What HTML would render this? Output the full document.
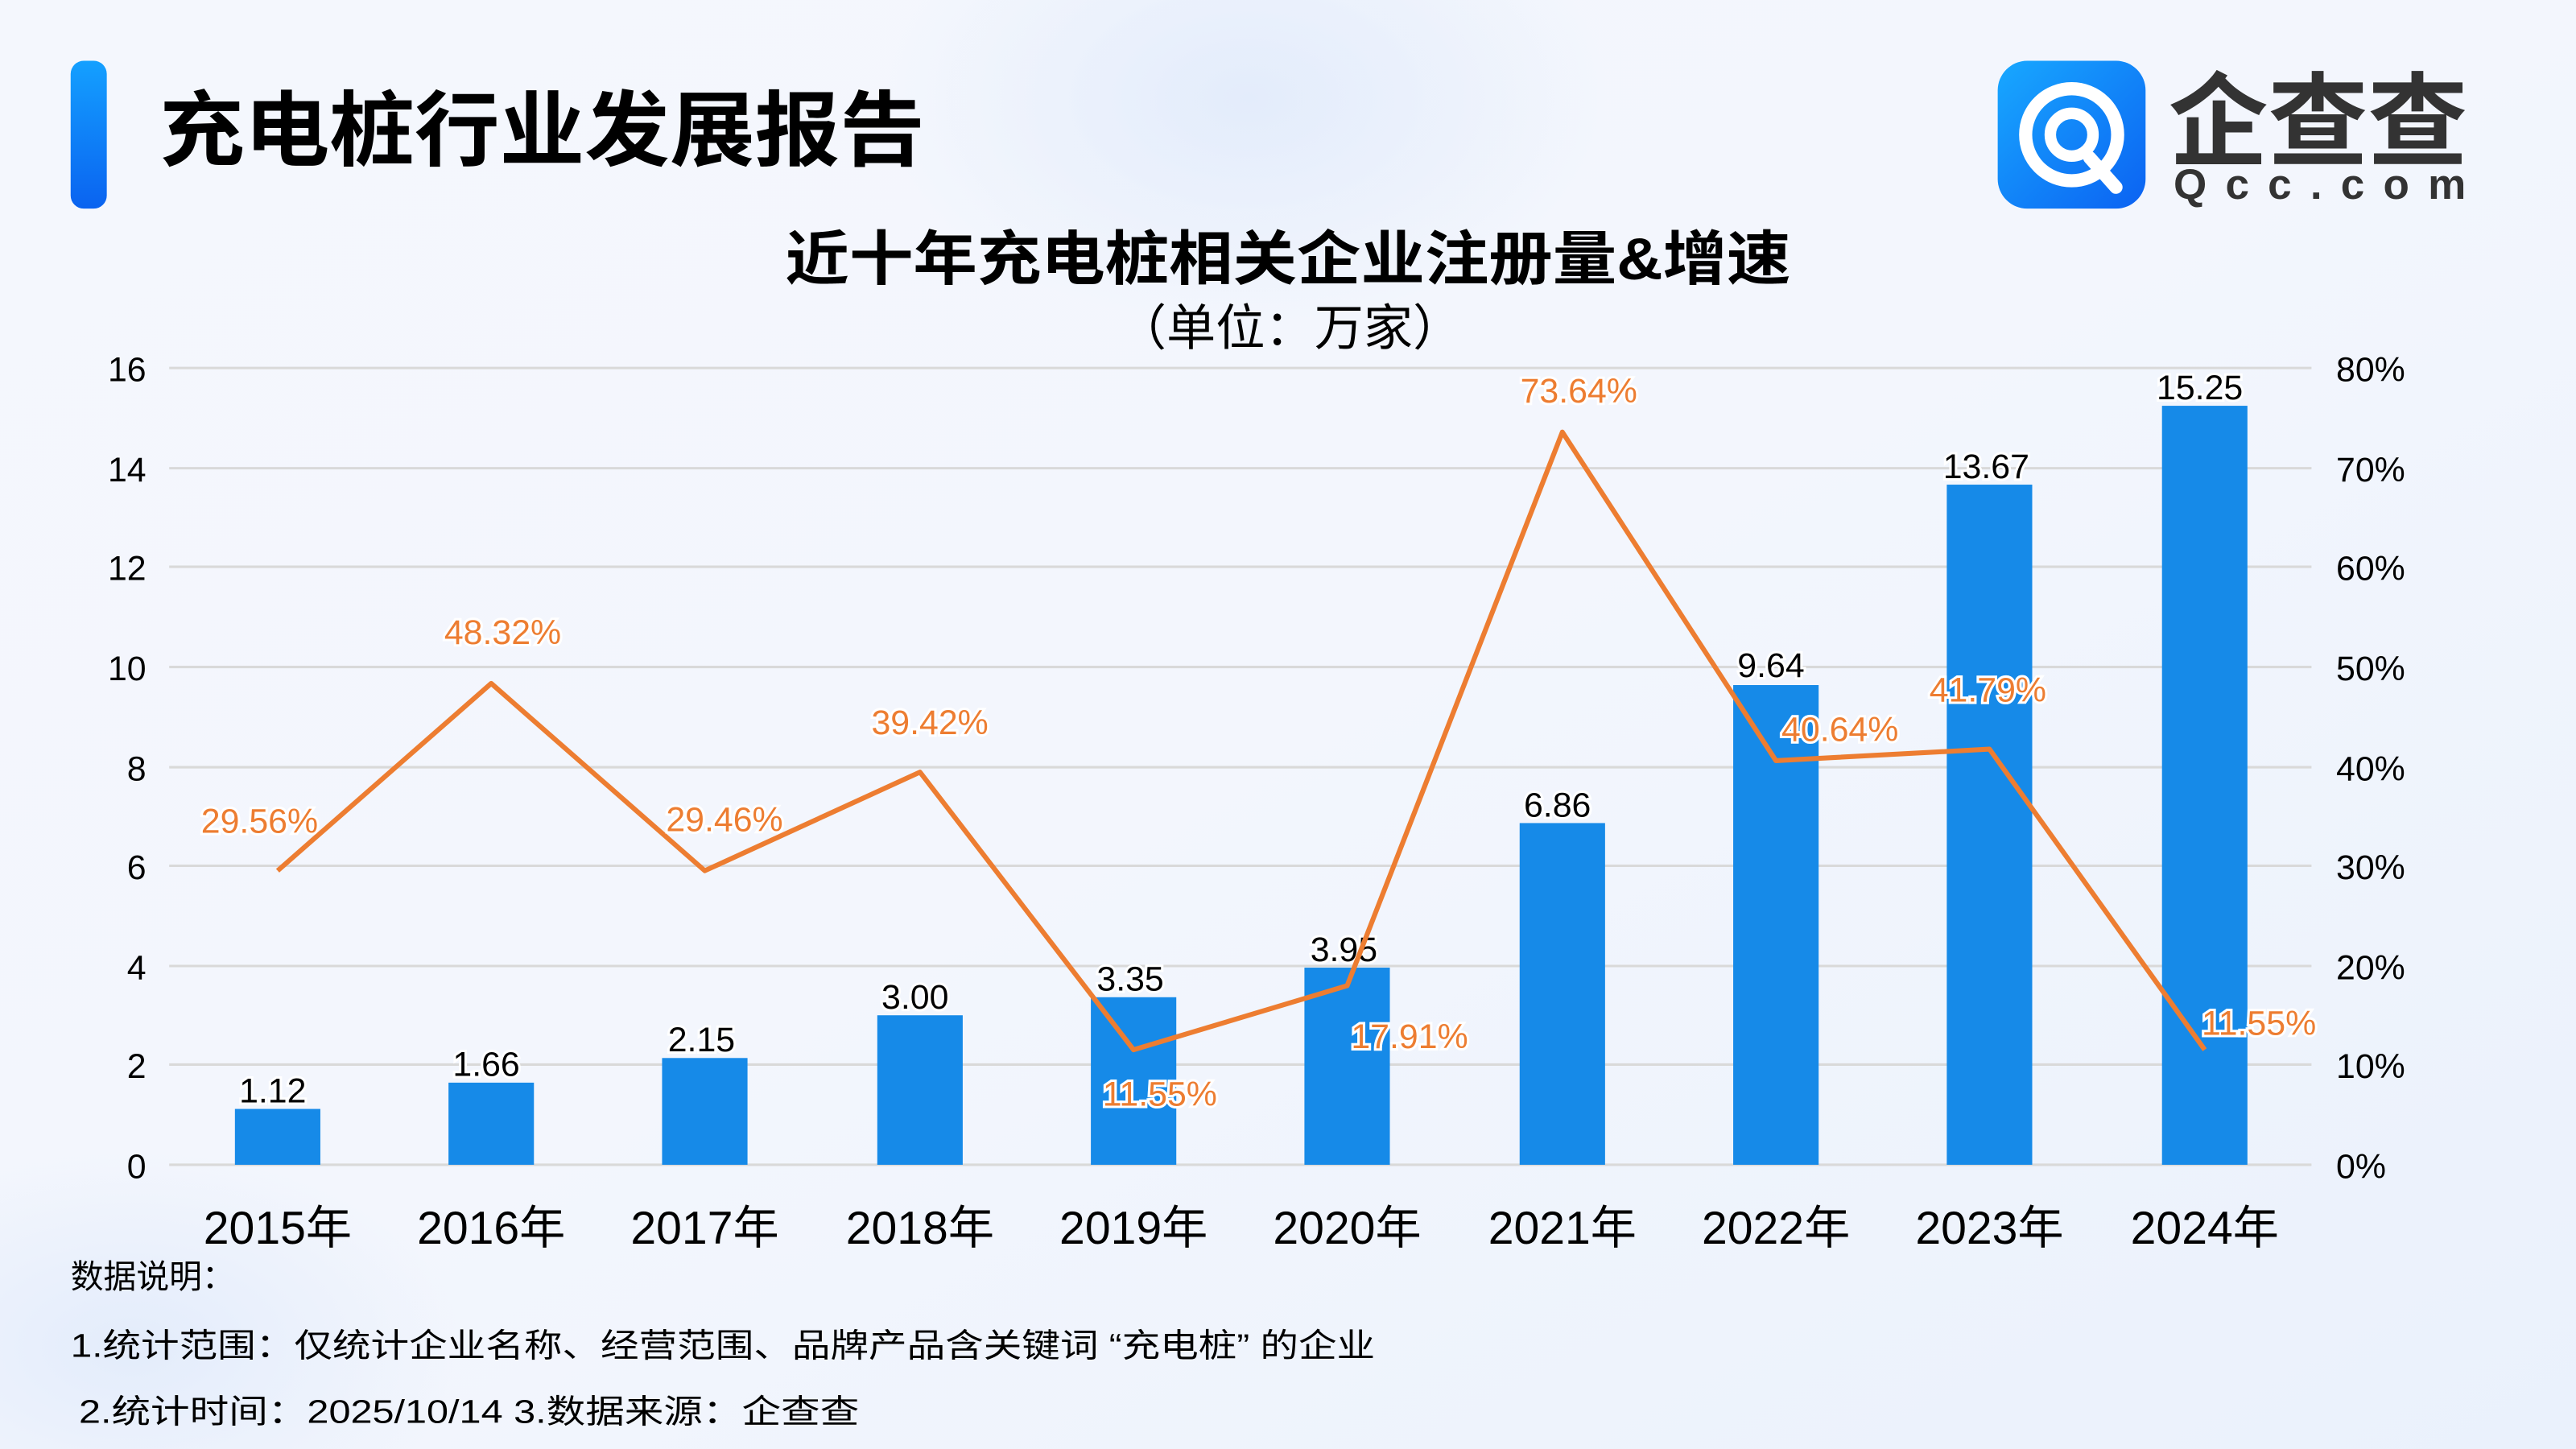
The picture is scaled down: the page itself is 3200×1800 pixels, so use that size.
<!DOCTYPE html>
<html><head><meta charset="utf-8"><style>
html,body{margin:0;padding:0;width:3200px;height:1800px;overflow:hidden;}
body{background:#f1f5fd;position:relative;}
svg{display:block;position:absolute;left:0;top:0;}
text{font-family:"Liberation Sans","Noto Sans CJK SC",sans-serif;}
</style></head><body>
<svg width="3200" height="1800" viewBox="0 0 1568 882" xmlns="http://www.w3.org/2000/svg">
<defs>
<linearGradient id="bg" x1="0" y1="0" x2="1" y2="1">
<stop offset="0" stop-color="#f4f7fd"/><stop offset="0.5" stop-color="#f3f6fd"/><stop offset="1" stop-color="#eaf1fc"/>
</linearGradient>
<radialGradient id="blob" cx="0.5" cy="0.5" r="0.5"><stop offset="0" stop-color="#e3ecfb"/><stop offset="1" stop-color="#e3ecfb" stop-opacity="0"/></radialGradient>
<linearGradient id="bar" x1="0" y1="0" x2="0" y2="1"><stop offset="0" stop-color="#14a0ff"/><stop offset="1" stop-color="#0a63f0"/></linearGradient>
<linearGradient id="logo" x1="0" y1="0" x2="1" y2="1"><stop offset="0" stop-color="#18a8ff"/><stop offset="1" stop-color="#0b62f2"/></linearGradient>
</defs>
<rect width="1568" height="882" fill="url(#bg)"/>
<ellipse cx="760" cy="60" rx="220" ry="140" fill="url(#blob)"/>
<ellipse cx="80" cy="820" rx="200" ry="120" fill="url(#blob)"/>
<rect x="43" y="37" width="22" height="90" rx="8" fill="url(#bar)"/>
<text x="97" y="97" font-size="50" font-weight="bold" fill="#000" textLength="466" lengthAdjust="spacingAndGlyphs">充电桩行业发展报告</text>
<rect x="1216" y="37" width="90" height="90" rx="18" fill="url(#logo)"/>
<circle cx="1261" cy="82" r="28" fill="none" stroke="#fff" stroke-width="8"/>
<circle cx="1261" cy="82" r="13" fill="none" stroke="#fff" stroke-width="7"/>
<path d="M1272 96 L1288 114" stroke="#fff" stroke-width="8" stroke-linecap="round"/>
<text x="1320" y="96" font-size="62" font-weight="bold" fill="#333" textLength="182" lengthAdjust="spacingAndGlyphs">企查查</text>
<text x="1323" y="121" font-size="26" font-weight="bold" fill="#333" textLength="178" lengthAdjust="spacing">Qcc.com</text>
<text x="784" y="170" font-size="36" font-weight="bold" fill="#000" text-anchor="middle" textLength="612" lengthAdjust="spacingAndGlyphs">近十年充电桩相关企业注册量&amp;增速</text>
<text x="785" y="210" font-size="30" fill="#000" text-anchor="middle">（单位：万家）</text>
<g stroke="#d9d9d9" stroke-width="1.5">
<line x1="103" y1="224" x2="1407" y2="224"/><line x1="103" y1="285" x2="1407" y2="285"/>
<line x1="103" y1="345" x2="1407" y2="345"/><line x1="103" y1="406" x2="1407" y2="406"/>
<line x1="103" y1="467" x2="1407" y2="467"/><line x1="103" y1="527" x2="1407" y2="527"/>
<line x1="103" y1="588" x2="1407" y2="588"/><line x1="103" y1="648" x2="1407" y2="648"/>
<line x1="103" y1="709" x2="1407" y2="709"/>
</g>
<g font-size="21" fill="#000" text-anchor="end">
<text x="89" y="232">16</text><text x="89" y="293">14</text><text x="89" y="353">12</text><text x="89" y="414">10</text>
<text x="89" y="475">8</text><text x="89" y="535">6</text><text x="89" y="596">4</text><text x="89" y="656">2</text><text x="89" y="717">0</text>
</g>
<g font-size="21" fill="#000">
<text x="1422" y="232">80%</text><text x="1422" y="293">70%</text><text x="1422" y="353">60%</text><text x="1422" y="414">50%</text>
<text x="1422" y="475">40%</text><text x="1422" y="535">30%</text><text x="1422" y="596">20%</text><text x="1422" y="656">10%</text><text x="1422" y="717">0%</text>
</g>
<g fill="#168ae8">
<rect x="143" y="675" width="52" height="34"/>
<rect x="273" y="659" width="52" height="50"/>
<rect x="403" y="644" width="52" height="65"/>
<rect x="534" y="618" width="52" height="91"/>
<rect x="664" y="607" width="52" height="102"/>
<rect x="794" y="589" width="52" height="120"/>
<rect x="925" y="501" width="52" height="208"/>
<rect x="1055" y="417" width="52" height="292"/>
<rect x="1185" y="295" width="52" height="414"/>
<rect x="1316" y="247" width="52" height="462"/>
</g>
<g font-size="21" fill="#000" text-anchor="middle" stroke="#fff" stroke-width="3" paint-order="stroke">
<text x="166" y="671">1.12</text><text x="296" y="655">1.66</text><text x="427" y="640">2.15</text>
<text x="557" y="614">3.00</text><text x="688" y="603">3.35</text><text x="818" y="585">3.95</text>
<text x="948" y="497">6.86</text><text x="1078" y="412">9.64</text><text x="1209" y="291">13.67</text><text x="1339" y="243">15.25</text>
</g>
<polyline fill="none" stroke="#ed7d31" stroke-width="3" stroke-linejoin="round"
points="169,530 299,416 429,530 560,470 690,639 820,600 951,263 1081,463 1211,456 1342,639"/>
<g font-size="21" fill="#ed7d31" text-anchor="middle" stroke="#fff" stroke-width="3" paint-order="stroke">
<text x="158" y="507">29.56%</text><text x="306" y="392">48.32%</text><text x="441" y="506">29.46%</text>
<text x="566" y="447">39.42%</text><text x="706" y="673">11.55%</text><text x="858" y="638">17.91%</text>
<text x="961" y="245">73.64%</text><text x="1120" y="451">40.64%</text><text x="1210" y="427">41.79%</text><text x="1375" y="630">11.55%</text>
</g>
<g font-size="28" fill="#000" text-anchor="middle">
<text x="169" y="757">2015年</text><text x="299" y="757">2016年</text><text x="429" y="757">2017年</text>
<text x="560" y="757">2018年</text><text x="690" y="757">2019年</text><text x="820" y="757">2020年</text>
<text x="951" y="757">2021年</text><text x="1081" y="757">2022年</text><text x="1211" y="757">2023年</text><text x="1342" y="757">2024年</text>
</g>
<g font-size="20" fill="#000">
<text x="43" y="784">数据说明：</text>
<text x="43" y="826" textLength="794" lengthAdjust="spacingAndGlyphs">1.统计范围：仅统计企业名称、经营范围、品牌产品含关键词 “充电桩” 的企业</text>
<text x="48" y="866" textLength="475" lengthAdjust="spacingAndGlyphs">2.统计时间：2025/10/14  3.数据来源：企查查</text>
</g>
</svg>
</body></html>
